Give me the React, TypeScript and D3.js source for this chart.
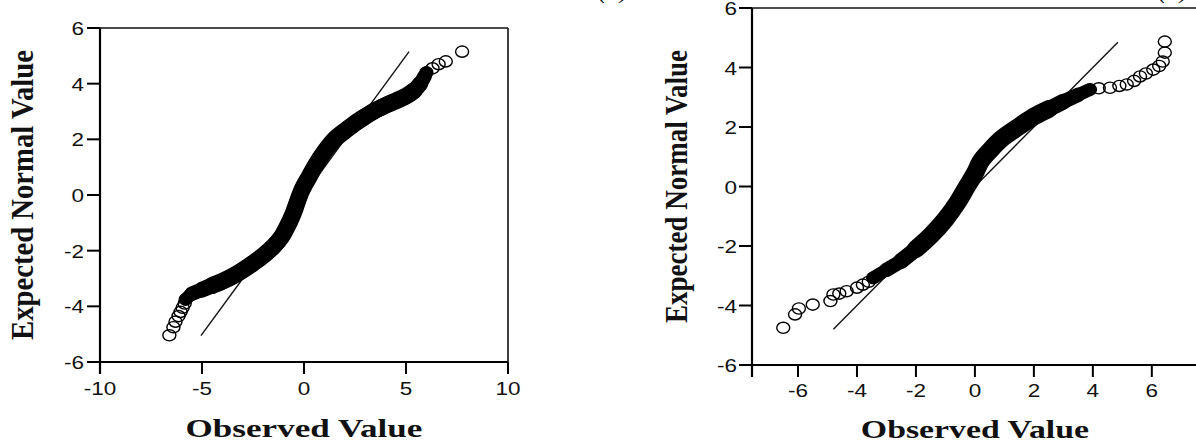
import React from "react";
import * as d3 from "d3";

const W = 1196;
const H = 444;

// ---- Left plot data (observed, expected normal) ----
const leftXTicks = [-10, -5, 0, 5, 10];
const leftYTicks = [-6, -4, -2, 0, 2, 4, 6];
const leftBand: [number, number][] = [
  [-5.8, -3.75], [-5.5, -3.55], [-5.0, -3.4], [-4.5, -3.25], [-4.0, -3.1],
  [-3.5, -2.92], [-3.0, -2.7], [-2.5, -2.45], [-2.0, -2.18], [-1.5, -1.85],
  [-1.1, -1.5], [-0.8, -1.1], [-0.55, -0.7], [-0.35, -0.3], [-0.15, 0.1],
  [0.05, 0.4], [0.25, 0.65], [0.55, 1.05], [0.95, 1.5], [1.5, 2.0],
  [2.0, 2.3], [2.5, 2.58], [3.0, 2.82], [3.5, 3.04], [4.0, 3.22],
  [4.5, 3.38], [5.0, 3.55], [5.4, 3.75], [5.7, 4.0], [5.9, 4.25], [6.0, 4.4],
];
const leftTailLow: [number, number][] = [
  [-6.6, -5.04], [-6.4, -4.75], [-6.3, -4.55], [-6.15, -4.35], [-6.05, -4.2],
  [-5.95, -4.05], [-5.85, -3.9],
];
const leftTailHigh: [number, number][] = [
  [6.3, 4.55], [6.6, 4.7], [6.95, 4.8], [7.75, 5.15],
];
const leftRefLine: [number, number] = [-5.05, 5.15];

// ---- Right plot data ----
const rightXTicks = [-6, -4, -2, 0, 2, 4, 6];
const rightYTicks = [-6, -4, -2, 0, 2, 4, 6];
const rightBand: [number, number][] = [
  [-3.45, -3.07], [-3.0, -2.8], [-2.5, -2.5], [-2.0, -2.1], [-1.5, -1.65],
  [-1.0, -1.1], [-0.6, -0.55], [-0.27, 0.0], [0.0, 0.45], [0.2, 0.85],
  [0.5, 1.2], [0.9, 1.6], [1.5, 2.02], [2.0, 2.35], [2.5, 2.6],
  [3.0, 2.85], [3.5, 3.08], [3.9, 3.26],
];
const rightTailLow: [number, number][] = [
  [-6.5, -4.75], [-6.1, -4.3], [-5.97, -4.1], [-5.5, -3.97], [-4.9, -3.85],
  [-4.8, -3.63], [-4.6, -3.6], [-4.35, -3.52], [-4.0, -3.4], [-3.8, -3.3],
  [-3.6, -3.2],
];
const rightTailHigh: [number, number][] = [
  [4.2, 3.3], [4.58, 3.32], [4.9, 3.38], [5.15, 3.43], [5.4, 3.55],
  [5.6, 3.7], [5.8, 3.8], [6.05, 3.93], [6.25, 4.05], [6.37, 4.2],
  [6.44, 4.5], [6.44, 4.87],
];
const rightRefLine: [number, number] = [-4.8, 4.85];

const xTitle = "Observed Value";
const yTitle = "Expected Normal Value";

type PlotProps = {
  xDomain: [number, number];
  xRange: [number, number];
  yRange: [number, number];
  xTicks: number[];
  yTicks: number[];
  band: [number, number][];
  tails: [number, number][];
  refLine: [number, number];
  coreWidth: number;
  yLabelX: number;
  yLabelLen: number;
  xLabelScale: number;
  xTickBaseline: number;
  yTickRight: number;
  xLabelBaseline: number;
  topLineEnd: number;
  drawRight: boolean;
};

function Plot(p: PlotProps) {
  const x = d3.scaleLinear().domain(p.xDomain).range(p.xRange);
  const y = d3.scaleLinear().domain([-6, 6]).range(p.yRange);
  const [x0, x1] = p.xRange;
  const [yb, yt] = p.yRange;
  const line = d3
    .line<[number, number]>()
    .x((d) => x(d[0]))
    .y((d) => y(d[1]))
    .curve(d3.curveCatmullRom);
  const xLabelCenter = x(0);
  const n = p.band.length;
  // layered strokes: the band gets thicker away from its ends
  const layers: { from: number; to: number; w: number }[] = [
    { from: 0, to: n, w: 13 },
    { from: 1, to: n - 1, w: 14.5 },
    { from: 2, to: n - 2, w: 16 },
    { from: 3, to: n - 3, w: p.coreWidth },
  ];
  return (
    <g>
      {/* frame */}
      <line x1={x0} x2={p.topLineEnd} y1={yt} y2={yt} stroke="#111" strokeWidth={1.6} />
      {p.drawRight && (
        <line x1={x1} x2={x1} y1={yt} y2={yb} stroke="#111" strokeWidth={1.6} />
      )}
      <line x1={x0} x2={x0} y1={yt} y2={yb + 12} stroke="#000" strokeWidth={2.2} />
      <line x1={x0 - 13} x2={Math.min(x1, W)} y1={yb} y2={yb} stroke="#000" strokeWidth={2.2} />
      {/* y ticks */}
      {p.yTicks.map((t) => (
        <g key={"y" + t}>
          <line x1={x0 - 13} x2={x0} y1={y(t)} y2={y(t)} stroke="#000" strokeWidth={2} />
          <text
            transform={`translate(${p.yTickRight},${y(t) + 7}) scale(1.25,1)`}
            textAnchor="end"
            fontFamily="Liberation Sans, Arial, sans-serif"
            fontSize={18}
            fill="#111"
          >
            {t}
          </text>
        </g>
      ))}
      {/* x ticks */}
      {p.xTicks.map((t) => (
        <g key={"x" + t}>
          <line x1={x(t)} x2={x(t)} y1={yb} y2={yb + 12} stroke="#000" strokeWidth={2} />
          <text
            transform={`translate(${x(t)},${p.xTickBaseline}) scale(1.25,1)`}
            textAnchor="middle"
            fontFamily="Liberation Sans, Arial, sans-serif"
            fontSize={18}
            fill="#111"
          >
            {t}
          </text>
        </g>
      ))}
      {/* reference line */}
      <line
        x1={x(p.refLine[0])}
        y1={y(p.refLine[0])}
        x2={x(p.refLine[1])}
        y2={y(p.refLine[1])}
        stroke="#111"
        strokeWidth={1.4}
      />
      {/* dense band of overlapping circles */}
      {layers.map((L, i) => (
        <path
          key={"b" + i}
          d={line(p.band.slice(L.from, L.to)) || ""}
          fill="none"
          stroke="#000"
          strokeWidth={L.w}
          strokeLinecap="round"
          strokeLinejoin="round"
        />
      ))}
      {[...p.band, ...p.tails].map((d, i) => (
        <ellipse
          key={"c" + i}
          cx={x(d[0])}
          cy={y(d[1])}
          rx={6.5}
          ry={5.6}
          fill="none"
          stroke="#000"
          strokeWidth={1.4}
        />
      ))}
      {/* axis titles */}
      <text
        transform={`translate(${p.yLabelX},${(yt + yb) / 2}) scale(1.1,1) rotate(-90)`}
        textAnchor="middle"
        fontFamily="Liberation Serif, Times New Roman, serif"
        fontWeight="bold"
        fontSize={28}
        textLength={p.yLabelLen}
        lengthAdjust="spacingAndGlyphs"
        fill="#111"
      >
        {yTitle}
      </text>
      <text
        transform={`translate(${xLabelCenter},${p.xLabelBaseline}) scale(${p.xLabelScale},1)`}
        textAnchor="middle"
        fontFamily="Liberation Serif, Times New Roman, serif"
        fontWeight="bold"
        fontSize={26}
        fill="#111"
      >
        {xTitle}
      </text>
    </g>
  );
}

export default function App() {
  return (
    <svg
      width={W}
      height={H}
      viewBox={`0 0 ${W} ${H}`}
      style={{ position: "absolute", left: 0, top: 0, background: "#fff" }}
    >
      <rect width={W} height={H} fill="#fff" />
      {/* cropped captions at the very top */}
      <text x={598} y={-2} fontFamily="Liberation Serif, serif" fontStyle="italic" fontSize={26} fill="#111">
        (a)
      </text>
      <text x={1158} y={-2} fontFamily="Liberation Serif, serif" fontStyle="italic" fontSize={26} fill="#111">
        (b)
      </text>
      <Plot
        xDomain={[-10, 10]}
        xRange={[100, 508]}
        yRange={[362, 28]}
        xTicks={leftXTicks}
        yTicks={leftYTicks}
        band={leftBand}
        tails={[...leftTailLow, ...leftTailHigh]}
        refLine={leftRefLine}
        coreWidth={17}
        yLabelX={33}
        yLabelLen={290}
        xLabelScale={1.35}
        xTickBaseline={395}
        yTickRight={84}
        xLabelBaseline={437}
        topLineEnd={508}
        drawRight={true}
      />
      <Plot
        xDomain={[-7.56, 7.6]}
        xRange={[752, 1199]}
        yRange={[365, 8]}
        xTicks={rightXTicks}
        yTicks={rightYTicks}
        band={rightBand}
        tails={[...rightTailLow, ...rightTailHigh]}
        refLine={rightRefLine}
        coreWidth={18}
        yLabelX={687}
        yLabelLen={273}
        xLabelScale={1.3}
        xTickBaseline={397}
        yTickRight={737}
        xLabelBaseline={438}
        topLineEnd={1196}
        drawRight={false}
      />
    </svg>
  );
}
